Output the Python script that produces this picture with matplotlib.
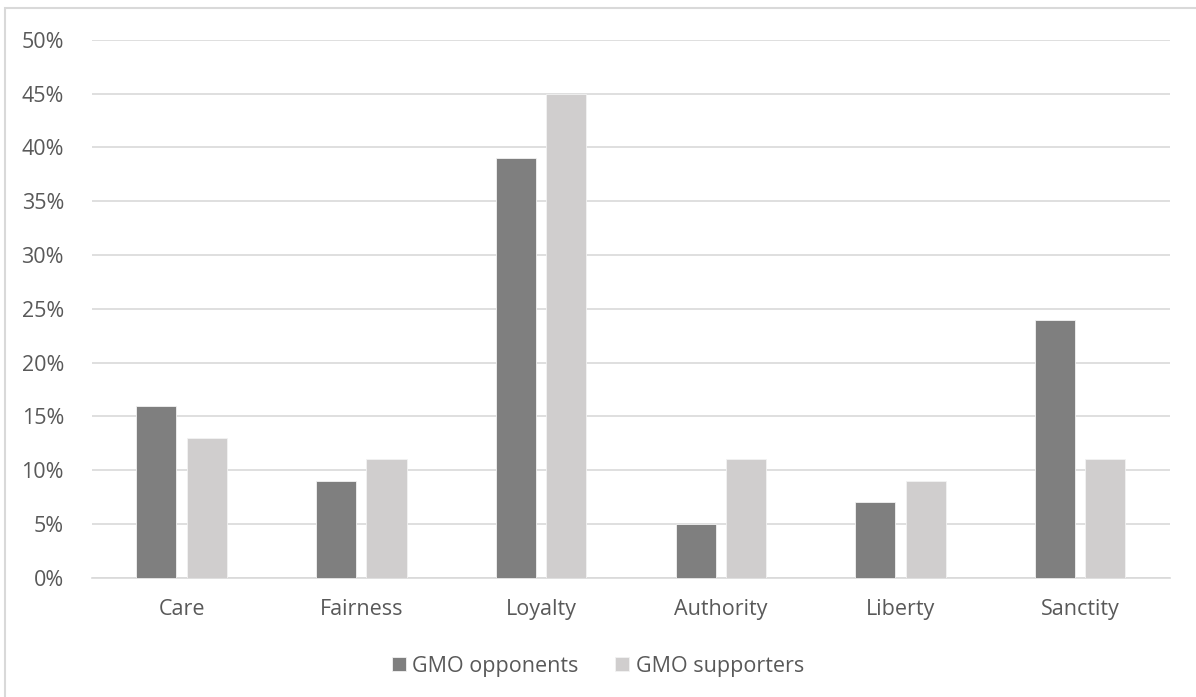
import numpy as np
import matplotlib
matplotlib.use('Agg')
import matplotlib.pyplot as plt
from matplotlib.ticker import PercentFormatter
from matplotlib.patches import Rectangle

categories = ['Care', 'Fairness', 'Loyalty', 'Authority', 'Liberty', 'Sanctity']
opponents = [16, 9, 39, 5, 7, 24]
supporters = [13, 11, 45, 11, 9, 11]
series_names = ['GMO opponents', 'GMO supporters']

plt.rcParams['font.family'] = ['Open Sans', 'DejaVu Sans']

fig = plt.figure(figsize=(11.96, 6.97), dpi=100)
ax = fig.add_axes([0.0767, 0.171, 0.9016, 0.772])

# frame around the chart area (only left/top edges visible in the crop)
fig.patches.append(Rectangle((5 / 1196, -0.1), 1.2, 1 - 8 / 697 + 0.1,
                             transform=fig.transFigure, fill=False,
                             edgecolor='#d9d9d9', linewidth=1.5))

x = np.arange(len(categories))
w = 0.223
off = 0.14
ax.bar(x - off, opponents, w, color='#7f7f7f', edgecolor='#f2f2f2', linewidth=0.6,
       label=series_names[0], zorder=3)
ax.bar(x + off, supporters, w, color='#d0cece', edgecolor='#f2f2f2', linewidth=0.6,
       label=series_names[1], zorder=3)

ax.set_xlim(-0.5, len(categories) - 0.5)
ax.set_ylim(0, 50)
ax.set_yticks(np.arange(0, 51, 5))
ax.yaxis.set_major_formatter(PercentFormatter(decimals=0))
ax.set_xticks(x)
ax.set_xticklabels(categories)
ax.grid(axis='y', color='#d9d9d9', linewidth=1.2, zorder=0)
for s in ['top', 'right', 'left']:
    ax.spines[s].set_visible(False)
ax.spines['bottom'].set_color('#d9d9d9')
ax.spines['bottom'].set_linewidth(1.2)
ax.tick_params(axis='both', length=0, labelsize=15.5, colors='#595959')
ax.tick_params(axis='x', pad=15)
ax.tick_params(axis='y', pad=20)

fig.legend(loc='center', bbox_to_anchor=(0.5, 0.044), ncol=2, frameon=False,
           fontsize=15.5, labelcolor='#595959', handlelength=0.65, handleheight=0.65,
           handletextpad=0.3, columnspacing=1.7)

fig.savefig('out.png', dpi=100)
